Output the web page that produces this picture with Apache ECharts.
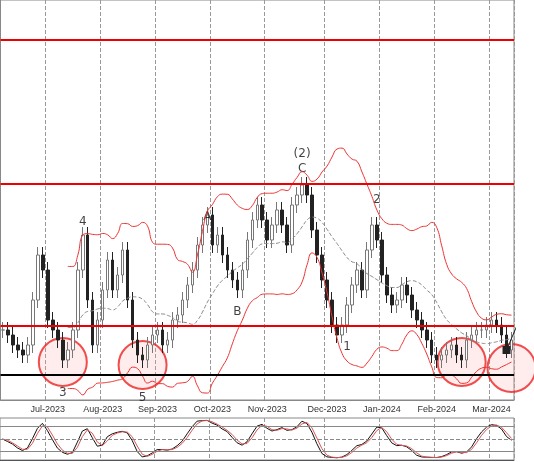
<!DOCTYPE html><html><head><meta charset="utf-8"><script src="https://cdn.jsdelivr.net/npm/echarts@6/dist/echarts.min.js"></script>
<style>body{margin:0}#c{width:534px;height:462px}</style></head><body><div id="c"></div><script>
const closes=[70,65,55,50,45,55,100,145,130,80,70,60,40,50,70,130,165,100,55,80,110,140,110,125,150,100,60,45,40,55,65,70,55,60,80,85,100,115,130,155,175,185,155,165,145,130,120,110,130,160,180,195,180,160,175,190,175,155,195,205,215,205,170,145,120,100,75,65,75,95,115,130,110,150,175,160,125,105,95,100,115,105,90,80,70,60,45,40,45,50,55,45,40,60,65,70,70,75,80,75,65,50,60];
const months={9:'Jul-2023',20:'Aug-2023',31:'Sep-2023',42:'Oct-2023',53:'Nov-2023',65:'Dec-2023',76:'Jan-2024',87:'Feb-2024',98:'Mar-2024'};
const levels=[360,216,74];const support=25;
const waveLabels=[[60,246,'(2)'],[60,231,'C'],[41,183,'A'],[47,88,'B'],[16,178,'4'],[12,7,'3'],[28,2,'5'],[69,53,'1'],[75,200,'2']];
const circles=[[12,38],[28,35],[92,38],[102,32]];
const arrow=[[101,50],[104,85]];
const cats=closes.map((_,i)=>months[i]||'');
const ohlc=closes.map((c,i)=>{const o=i?closes[i-1]:c;return [o,c,Math.min(o,c)-8,Math.max(o,c)+8];});
const P=14,up=[],mid=[],lo=[];
for(let i=0;i<closes.length;i++){const w=closes.slice(Math.max(0,i-P+1),i+1),n=w.length,m=w.reduce((a,b)=>a+b)/n,sd=Math.sqrt(w.reduce((a,b)=>a+(b-m)**2,0)/n);mid.push(m);up.push(m+2*sd);lo.push(m-2*sd);}
for(let i=0;i<P-1;i++){up[i]='-';lo[i]='-';mid[i]='-';}
const raw=[];for(let i=0;i<ohlc.length;i++){const s=ohlc.slice(Math.max(0,i-11),i+1);const h=Math.max(...s.map(d=>d[3])),l=Math.min(...s.map(d=>d[2]));raw.push((closes[i]-l)/(h-l)*100);}
const sm=(a,n)=>a.map((_,i)=>{const s=a.slice(Math.max(0,i-n+1),i+1);return s.reduce((x,y)=>x+y)/s.length;});
const K=sm(raw,3),D=sm(K,2);
const ch=echarts.init(document.getElementById('c'));
ch.setOption({animation:false,backgroundColor:'#fff',
grid:[{left:0,right:20,top:0,bottom:62,show:true,borderColor:'#888'},{left:0,right:20,top:418,bottom:2,show:true,borderColor:'#888'}],
xAxis:[{type:'category',data:cats,gridIndex:0,axisTick:{show:false},axisLine:{lineStyle:{color:'#888'}},axisLabel:{interval:0,fontSize:9,color:'#333',margin:5},splitLine:{show:true,interval:(i,v)=>v!=='',lineStyle:{type:'dashed',color:'#999'}}},
{type:'category',data:cats,gridIndex:1,axisLabel:{show:false},axisTick:{show:false},splitLine:{show:true,interval:(i,v)=>v!=='',lineStyle:{type:'dashed',color:'#999'}}}],
yAxis:[{type:'value',min:0,max:400,gridIndex:0,show:false},{type:'value',min:0,max:100,gridIndex:1,interval:30,axisLabel:{show:false},splitLine:{show:false},axisLine:{show:false}}],
series:[
{type:'candlestick',data:ohlc,barWidth:3,itemStyle:{color:'#fff',color0:'#222',borderColor:'#777',borderColor0:'#222'},
markLine:{silent:true,symbol:'none',label:{show:false},data:levels.map(v=>({yAxis:v,lineStyle:{color:'#e00',width:2,type:'solid'}})).concat([{yAxis:support,lineStyle:{color:'#000',width:2,type:'solid'}}])}},
{type:'line',data:up,symbol:'none',lineStyle:{color:'#e33',width:1},smooth:true},
{type:'line',data:lo,symbol:'none',lineStyle:{color:'#e33',width:1},smooth:true},
{type:'line',data:mid,symbol:'none',lineStyle:{color:'#888',width:1,type:'dashed'},smooth:true},
{type:'scatter',data:circles,symbolSize:48,itemStyle:{color:'rgba(255,160,160,0.25)',borderColor:'#e22',borderWidth:2},z:1},
{type:'scatter',data:waveLabels,symbolSize:0,label:{show:true,formatter:p=>p.data[2],color:'#111',fontSize:12,fontFamily:'DejaVu Sans'}},
{type:'line',data:arrow,symbol:['none','arrow'],symbolSize:8,lineStyle:{color:'#222',width:1},itemStyle:{color:'#222'}},
{type:'line',xAxisIndex:1,yAxisIndex:1,data:K,symbol:'none',lineStyle:{color:'#111',width:1},
markLine:{silent:true,symbol:'none',label:{show:false},data:[{yAxis:80,lineStyle:{color:'#888',type:'solid'}},{yAxis:20,lineStyle:{color:'#888',type:'solid'}},{yAxis:50,lineStyle:{color:'#888',type:'dashed'}}]}},
{type:'line',xAxisIndex:1,yAxisIndex:1,data:D,symbol:'none',lineStyle:{color:'#d55',width:1}}
]});
</script></body></html>
